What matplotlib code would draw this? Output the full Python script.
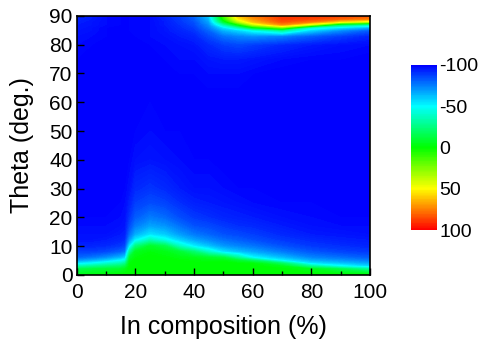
import numpy as np
import matplotlib
matplotlib.use("Agg")
import matplotlib.pyplot as plt
from matplotlib.colors import LinearSegmentedColormap

plt.rcParams['font.family'] = ['Liberation Sans', 'DejaVu Sans']
plt.rcParams['axes.unicode_minus'] = False

# In composition (%) columns and theta (deg) rows of the map
comp = [0, 5, 10, 15, 16.5, 18, 20, 25, 30, 35, 40, 45, 50, 55, 60, 70, 80, 90, 100]
theta = [0, 2, 3, 4, 5, 6, 8, 10, 12, 14, 17, 20, 25, 30, 40, 50, 60,
         70, 75, 80, 83, 85, 86, 87, 88, 89, 90]

# one list per composition column, values along theta
columns = [
    [-5, -15, -35, -55, -70, -80, -88, -93, -96, -97, -98, -99, -99, -99, -100, -100, -100, -100, -99, -98, -97, -96, -95, -95, -94, -93, -92],
    [-3, -12, -30, -50, -66, -77, -88, -93, -96, -97, -98, -99, -99, -100, -100, -100, -100, -100, -100, -99, -98, -97, -97, -96, -96, -95, -95],
    [-2, -10, -25, -42, -60, -72, -86, -92, -95, -97, -98, -99, -99, -100, -100, -100, -100, -100, -100, -100, -99, -99, -99, -98, -98, -98, -98],
    [0, -8, -20, -35, -50, -64, -81, -89, -93, -95, -97, -98, -99, -99, -100, -100, -100, -100, -100, -100, -100, -99, -99, -99, -99, -99, -99],
    [0, -5, -15, -28, -45, -58, -77, -86, -91, -94, -96, -97, -98, -99, -100, -100, -100, -100, -100, -100, -100, -99, -99, -99, -99, -99, -99],
    [0, 0, -1, -2, -5, -10, -30, -55, -70, -79, -86, -90, -94, -97, -99, -99, -99, -99, -99, -99, -99, -99, -99, -99, -99, -99, -99],
    [0, 0, 0, 0, 0, -2, -6, -25, -52, -66, -76, -82, -88, -92, -97, -99, -99, -99, -99, -99, -99, -98, -98, -98, -98, -98, -98],
    [0, 0, 0, 0, 0, 0, -2, -8, -35, -55, -68, -76, -85, -90, -96, -98, -99, -99, -99, -99, -98, -98, -98, -98, -98, -98, -98],
    [0, 0, 0, 0, 0, -1, -4, -15, -45, -60, -71, -79, -87, -92, -97, -99, -99, -99, -99, -98, -97, -96, -96, -95, -95, -94, -93],
    [0, 0, 0, 0, -1, -3, -10, -38, -58, -69, -78, -85, -91, -95, -98, -99, -99, -99, -98, -97, -95, -93, -92, -91, -90, -89, -88],
    [0, 0, 0, 0, -2, -5, -22, -53, -67, -76, -84, -89, -94, -97, -99, -100, -100, -99, -98, -96, -93, -90, -88, -86, -84, -82, -80],
    [0, 0, 0, 0, -3, -8, -40, -62, -73, -80, -86, -91, -95, -97, -99, -100, -100, -98, -96, -92, -86, -80, -76, -72, -68, -64, -60],
    [0, 0, 0, 0, -3, -12, -55, -70, -78, -84, -89, -93, -96, -98, -100, -100, -100, -98, -95, -88, -78, -65, -55, -35, -10, 5, 12],
    [0, 0, 0, -1, -10, -30, -62, -74, -81, -86, -91, -94, -97, -99, -100, -100, -100, -98, -95, -86, -74, -58, -35, 0, 35, 52, 60],
    [0, 0, 0, -2, -20, -50, -67, -77, -84, -88, -92, -95, -98, -99, -100, -100, -100, -99, -96, -88, -72, -48, -5, 38, 62, 70, 75],
    [0, 0, -5, -20, -52, -63, -76, -84, -89, -92, -95, -97, -99, -100, -100, -100, -100, -100, -98, -92, -75, -30, 25, 72, 84, 88, 89],
    [0, -5, -30, -55, -66, -74, -83, -89, -92, -95, -97, -98, -99, -100, -100, -100, -100, -100, -99, -95, -82, -58, -42, 40, 76, 86, 89],
    [0, -15, -48, -62, -71, -78, -87, -91, -94, -96, -98, -99, -100, -100, -100, -100, -100, -100, -99, -97, -88, -72, -55, -20, 55, 80, 86],
    [0, -30, -58, -68, -76, -82, -89, -93, -95, -97, -98, -99, -100, -100, -100, -100, -100, -100, -100, -98, -93, -82, -65, -35, 40, 75, 82],
]

cbar_ticks = [-100, -50, 0, 50, 100]

Z = np.array(columns).T
cmap = LinearSegmentedColormap.from_list(
    'rainbow5', [(0, 0, 1), (0, 1, 1), (0, 1, 0), (1, 1, 0), (1, 0, 0)])

fig = plt.figure(figsize=(4.8, 3.39), dpi=100)
ax = fig.add_axes([0.160, 0.189, 0.611, 0.764])
levels = np.linspace(-100, 100, 201)
cs = ax.contourf(comp, theta, Z, levels=levels, cmap=cmap, vmin=-100, vmax=100)

ax.set_xlim(0, 100)
ax.set_ylim(0, 90)
ax.set_xticks(range(0, 101, 20))
ax.set_xticks(range(10, 100, 20), minor=True)
ax.set_yticks(range(0, 91, 10))
ax.tick_params(direction='in', labelsize=15, length=5, width=1)
ax.tick_params(axis='x', pad=6)
ax.tick_params(axis='y', pad=3)
ax.tick_params(which='minor', direction='in', length=3, width=1)
ax.set_xlabel('In composition (%)', fontsize=18, labelpad=9)
ax.set_ylabel('Theta (deg.)', fontsize=18, labelpad=11)
for s in ax.spines.values():
    s.set_linewidth(1.2)

cax = fig.add_axes([0.856, 0.3215, 0.054, 0.487])
cb = fig.colorbar(cs, cax=cax, ticks=cbar_ticks)
cb.outline.set_visible(False)
cax.invert_yaxis()
cax.tick_params(length=0, labelsize=14, pad=2)
cb.set_ticklabels([str(t) for t in cbar_ticks])

fig.savefig('out.png', dpi=100)
